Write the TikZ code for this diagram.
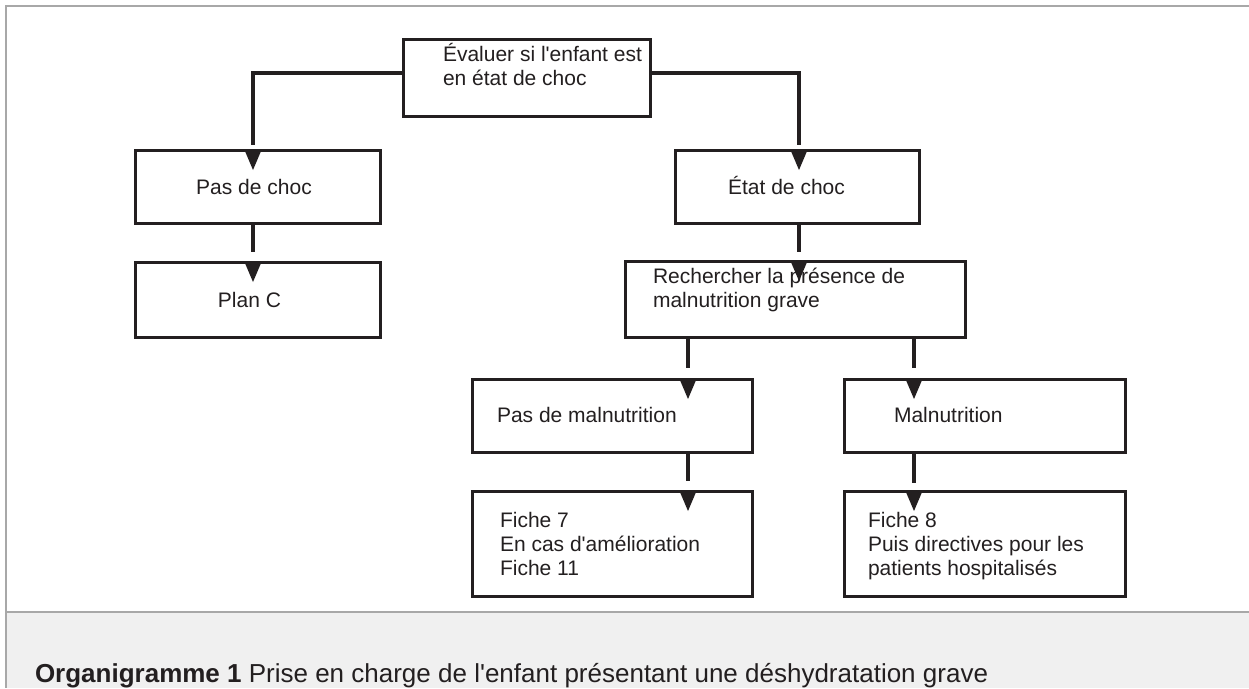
\documentclass[tikz,border=0pt]{standalone}
\usepackage{fontspec}
\setmainfont{Liberation Sans}[Ligatures=TeXOff]
\usetikzlibrary{calc}
\definecolor{ink}{HTML}{231F20}
\definecolor{framegray}{HTML}{A8A8A8}
\definecolor{capbg}{HTML}{F0F0F0}
\newcommand\tipat[1]{\fill[ink] ([xshift=-8.5pt]#1) -- ([xshift=8.5pt]#1) -- ([yshift=-20pt]#1) -- cycle;}
\tikzset{
  box/.style={draw=ink, line width=3pt, rectangle, inner sep=0pt, outer sep=0pt},
  conn/.style={draw=ink, line width=3.2pt},
  txt/.style={font=\fontsize{21}{24}\selectfont, text=ink, inner sep=0pt, outer sep=0pt, align=left},
  captxt/.style={font=\fontsize{26}{30}\selectfont, text=ink, inner sep=0pt, outer sep=0pt}
}
\begin{document}
\begin{tikzpicture}[x=1pt,y=-1pt]
\useasboundingbox (0,0) rectangle (1249,688);
\fill[white] (0,0) rectangle (1249,688);
% caption area and frame
\fill[capbg] (6,612) rectangle (1249,688);
\draw[framegray, line width=2pt] (1249,6) -- (6,6) -- (6,688);
\draw[framegray, line width=2pt] (6,612) -- (1249,612);

% boxes
\node[box, minimum width=247pt, minimum height=77pt] (top) at (526.5,77.5) {};
\node[box, minimum width=245pt, minimum height=73pt] (pas) at (257.5,186.5) {};
\node[box, minimum width=244pt, minimum height=73pt] (etat) at (797,186.5) {};
\node[box, minimum width=245pt, minimum height=75pt] (planc) at (257.5,299.5) {};
\node[box, minimum width=340pt, minimum height=76pt] (rech) at (795,299) {};
\node[box, minimum width=280pt, minimum height=73pt] (pasmal) at (612,415.5) {};
\node[box, minimum width=281pt, minimum height=73pt] (mal) at (984.5,415.5) {};
\node[box, minimum width=280pt, minimum height=105pt] (f7) at (612,543.5) {};
\node[box, minimum width=281pt, minimum height=105pt] (f8) at (984.5,543.5) {};

% texts
\node[txt, anchor=base west] (ttop1) at (443,61) {Évaluer si l'enfant est};
\node[txt, anchor=base west] (ttop2) at (443,85) {en état de choc};
\node[txt, anchor=base] (tpas) at (254,194) {Pas de choc};
\node[txt, anchor=base] (tetat) at (786.5,194) {État de choc};
\node[txt, anchor=base] (tplanc) at (249.5,307) {Plan C};
\node[txt, anchor=base west] (trech1) at (653,283) {Rechercher la présence de};
\node[txt, anchor=base west] (trech2) at (653,307) {malnutrition grave};
\node[txt, anchor=base west] (tpasmal) at (497,422) {Pas de malnutrition};
\node[txt, anchor=base west] (tmal) at (894,422) {Malnutrition};
\node[txt, anchor=base west] (tf7a) at (500,527) {Fiche 7};
\node[txt, anchor=base west] (tf7b) at (500,551) {En cas d'amélioration};
\node[txt, anchor=base west] (tf7c) at (500,575) {Fiche 11};
\node[txt, anchor=base west] (tf8a) at (868,527) {Fiche 8};
\node[txt, anchor=base west] (tf8b) at (868,551) {Puis directives pour les};
\node[txt, anchor=base west] (tf8c) at (868,575) {patients hospitalisés};

% connector end points
\coordinate (e1) at (253,145);  \coordinate (a1) at (253,150);
\coordinate (e2) at (799,145);  \coordinate (a2) at (799,150);
\coordinate (s3) at (253,223);  \coordinate (e3) at (253,252); \coordinate (a3) at (253,262);
\coordinate (s4) at (799,223);  \coordinate (e4) at (799,252); \coordinate (a4) at (799,261);
\coordinate (s5) at (688,337);  \coordinate (e5) at (688,368); \coordinate (a5) at (688,379);
\coordinate (s6) at (914,337);  \coordinate (e6) at (914,368); \coordinate (a6) at (914,379);
\coordinate (s7) at (688,452);  \coordinate (e7) at (688,481); \coordinate (a7) at (688,491);
\coordinate (s8) at (914,452);  \coordinate (e8) at (914,483); \coordinate (a8) at (914,491);

% connectors
\draw[conn] ([yshift=4.5pt]top.west) -| (e1);
\draw[conn] ([yshift=4.5pt]top.east) -| (e2);
\draw[conn] (s3) -- (e3);
\draw[conn] (s4) -- (e4);
\draw[conn] (s5) -- (e5);
\draw[conn] (s6) -- (e6);
\draw[conn] (s7) -- (e7);
\draw[conn] (s8) -- (e8);
\tipat{a1}\tipat{a2}\tipat{a3}\tipat{a4}\tipat{a5}\tipat{a6}\tipat{a7}\tipat{a8}

% caption
\node[captxt, anchor=base west] (cap) at (35,682) {\textbf{Organigramme 1} Prise en charge de l'enfant présentant une déshydratation grave};
\end{tikzpicture}
\end{document}
